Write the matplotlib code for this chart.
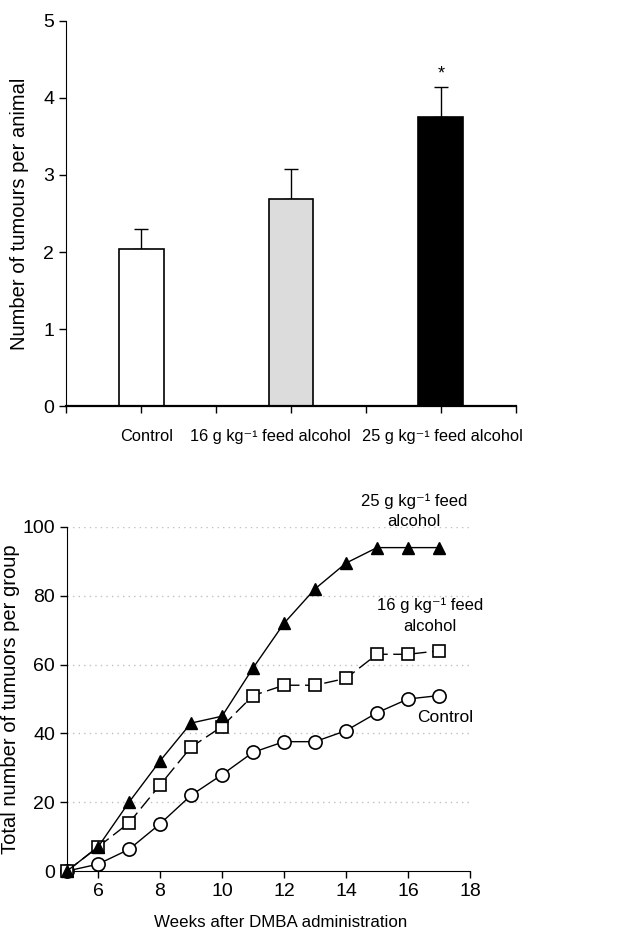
import numpy as np
import matplotlib
matplotlib.use("Agg")
import matplotlib.pyplot as plt

plt.rcParams['font.family'] = ['Liberation Sans', 'DejaVu Sans']
plt.rcParams['font.size'] = 13

# top panel: mean tumours per animal
groups = ['Control', '16 g kg\u207b\u00b9 feed alcohol', '25 g kg\u207b\u00b9 feed alcohol']
means = [2.04, 2.69, 3.75]
errs = [0.26, 0.39, 0.39]
bar_colors = ['white', '#dcdcdc', 'black']

# bottom panel: cumulative tumours per group
weeks = [5, 6, 7, 8, 9, 10, 11, 12, 13, 14, 15, 16, 17]
control = [0, 2, 6.3, 13.7, 22, 28, 34.5, 37.6, 37.6, 40.8, 46, 50, 51]
alc16 = [0, 7, 14, 25, 36, 42, 51, 54, 54, 56, 63, 63, 64]
alc25 = [0, 7, 20, 32, 43, 45, 59, 72, 82, 89.5, 94, 94, 94]

fig = plt.figure(figsize=(6.39, 9.36), dpi=100)

# ---- top bar chart
ax1 = fig.add_axes([0.1033, 0.5662, 0.7042, 0.4114])
xpos = [1, 3, 5]
ax1.bar(xpos, means, width=0.6, color=bar_colors, edgecolor='black', linewidth=1.2, zorder=2)
ax1.errorbar(xpos, means, yerr=[[0, 0, 0], errs], fmt='none', ecolor='black',
             elinewidth=1, capsize=5, capthick=1, zorder=1)
ax1.text(xpos[2], means[2] + errs[2] + 0.06, '*', ha='center', va='bottom', fontsize=13)
ax1.set_xlim(0, 6)
ax1.set_ylim(0, 5)
ax1.set_xticks(range(7))
ax1.set_xticklabels([])
ax1.set_yticks(range(6))
ax1.tick_params(axis='both', direction='out', length=5, width=1, labelsize=14)
ax1.set_ylabel('Number of tumours per animal', fontsize=14.5, labelpad=10)
for s in ['top', 'right']:
    ax1.spines[s].set_visible(False)
ax1.spines['bottom'].set_linewidth(1.6)
label_x = [1.08, 2.72, 5.02]
for lx, g in zip(label_x, groups):
    ax1.text(lx, -0.4, g, ha='center', va='center', fontsize=11.8)

# ---- bottom line chart
ax2 = fig.add_axes([0.1049, 0.0694, 0.6306, 0.3676])
for yv in [20, 40, 60, 80, 100]:
    ax2.axhline(yv, color='#c0c0c0', linestyle=(0, (1, 3)), linewidth=1, zorder=0)
ax2.plot(weeks, control, '-', color='black', linewidth=1, marker='o', markersize=9.5,
         markerfacecolor='white', markeredgecolor='black', markeredgewidth=1.2, clip_on=False, zorder=3)
ax2.plot(weeks, alc16, color='black', linewidth=1, linestyle=(0, (10, 4)), marker='s', markersize=8,
         markerfacecolor='white', markeredgecolor='black', markeredgewidth=1.2, clip_on=False, zorder=4)
ax2.plot(weeks, alc25, '-', color='black', linewidth=1, marker='^', markersize=9,
         markerfacecolor='black', markeredgecolor='black', clip_on=False, zorder=5)
ax2.set_xlim(5, 18)
ax2.set_ylim(0, 100)
ax2.set_xticks([6, 8, 10, 12, 14, 16, 18])
ax2.set_yticks([0, 20, 40, 60, 80, 100])
ax2.tick_params(axis='both', direction='out', length=5, width=1, labelsize=14)
ax2.set_xlabel('Weeks after DMBA administration', fontsize=12.2)
ax2.xaxis.set_label_coords(0.531, -0.128)
ax2.set_ylabel('Total number of tumuors per group', fontsize=14.5, labelpad=2)
for s in ['top', 'right']:
    ax2.spines[s].set_visible(False)
ax2.text(16.2, 104.5, '25 g kg\u207b\u00b9 feed\nalcohol', ha='center', va='center', fontsize=12,
         linespacing=1.45)
ax2.text(16.7, 74.2, '16 g kg\u207b\u00b9 feed\nalcohol', ha='center', va='center', fontsize=12,
         linespacing=1.45)
ax2.text(17.2, 44.5, 'Control', ha='center', va='center', fontsize=12.5)

fig.savefig('out.png', dpi=100)
